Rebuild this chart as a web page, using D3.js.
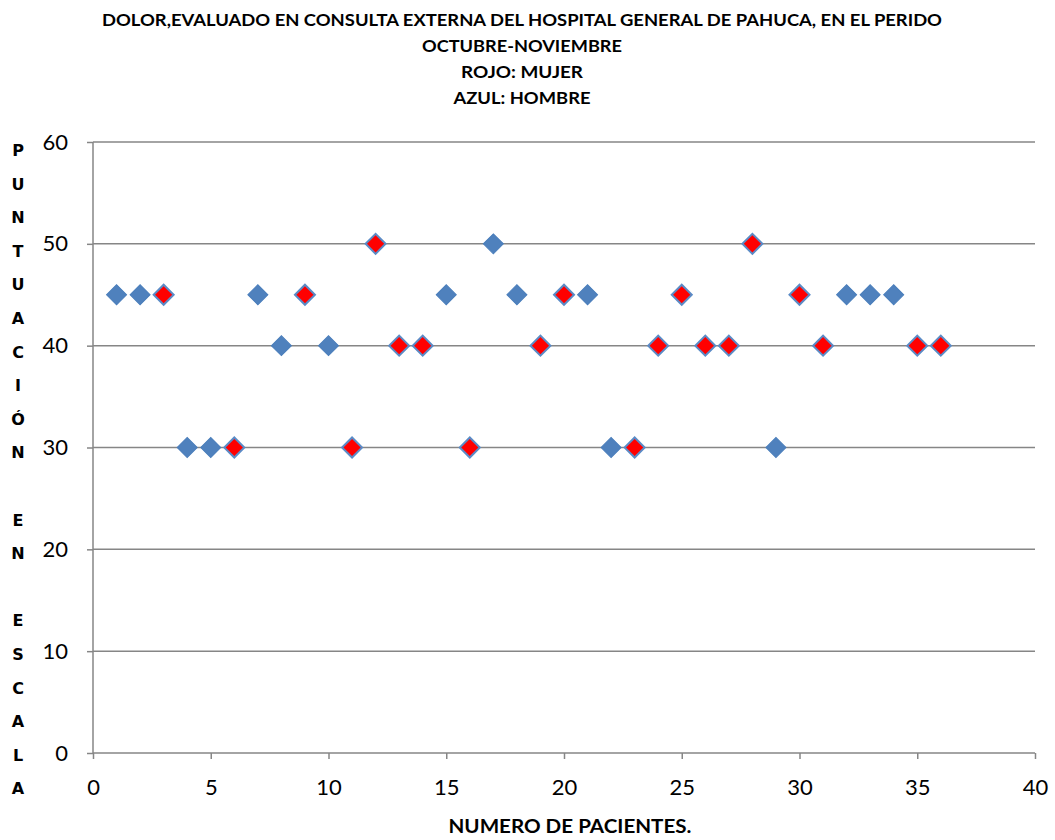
<!DOCTYPE html>
<html>
<head>
<meta charset="utf-8">
<script src="https://cdn.jsdelivr.net/npm/d3@7"></script>
<style>
	body { margin: 0; background: #fff; }
	svg { display: block; }
</style>
</head>
<body>
<svg id="chart"></svg>
<script>
// patient number, score and sex (M = mujer / red, H = hombre / blue)
const pacientes = [1, 2, 3, 4, 5, 6, 7, 8, 9, 10, 11, 12, 13, 14, 15, 16, 17, 18,
	19, 20, 21, 22, 23, 24, 25, 26, 27, 28, 29, 30, 31, 32, 33, 34, 35, 36];
const puntuacion = [45, 45, 45, 30, 30, 30, 45, 40, 45, 40, 30, 50, 40, 40, 45, 30, 50, 45,
	40, 45, 45, 30, 30, 40, 45, 40, 40, 50, 30, 45, 40, 45, 45, 45, 40, 40];
const sexo = ["H", "H", "M", "H", "H", "M", "H", "H", "M", "H", "M", "M", "M", "M", "H", "M", "H", "H",
	"M", "M", "H", "H", "M", "M", "M", "M", "M", "M", "H", "M", "M", "H", "H", "H", "M", "M"];
const xTicks = [0, 5, 10, 15, 20, 25, 30, 35, 40];
const yTicks = [0, 10, 20, 30, 40, 50, 60];
const titleLines = [
	"DOLOR,EVALUADO EN CONSULTA EXTERNA DEL HOSPITAL GENERAL DE PAHUCA, EN EL PERIDO",
	"OCTUBRE-NOVIEMBRE",
	"ROJO: MUJER",
	"AZUL: HOMBRE"
];
const yTitle = "PUNTUACIÓN EN ESCALA";
const xTitle = "NUMERO DE PACIENTES.";

const width = 1055;
const height = 840;
const margin = { top: 142, right: 20, bottom: 87, left: 93 };
const axisColor = "#868686";
const font = "Lato, 'Open Sans', sans-serif";
// measured widths of the title lines in the original (Calibri is narrower than Lato)
const titleWidths = [840, 200, 122, 137];

const svg = d3.select("#chart").attr("width", width).attr("height", height);

const x = d3.scaleLinear().domain([0, 40]).range([margin.left, 1035]);
const y = d3.scaleLinear().domain([0, 60]).range([height - margin.bottom, margin.top]);

// title
svg.append("g")
	.selectAll("text")
	.data(titleLines)
	.join("text")
	.attr("x", 522)
	.attr("y", (d, i) => 25.5 + i * 26.2)
	.attr("text-anchor", "middle")
	.style("font-family", font)
	.style("font-weight", "bold")
	.style("font-size", "17.5px")
	.attr("textLength", (d, i) => titleWidths[i])
	.attr("lengthAdjust", "spacingAndGlyphs")
	.text((d) => d);

// gridlines
svg.append("g")
	.selectAll("line")
	.data(yTicks.filter((d) => d > 0))
	.join("line")
	.attr("x1", x(0))
	.attr("x2", x(40))
	.attr("y1", (d) => y(d))
	.attr("y2", (d) => y(d))
	.attr("stroke", axisColor)
	.attr("stroke-width", 1.5);

// y axis
const yAxis = svg.append("g")
	.attr("transform", `translate(${x(0)},0)`)
	.call(d3.axisLeft(y).tickValues(yTicks).tickSize(6).tickPadding(19));
// x axis
const xAxis = svg.append("g")
	.attr("transform", `translate(0,${y(0)})`)
	.call(d3.axisBottom(x).tickValues(xTicks).tickSize(6).tickPadding(20));

[yAxis, xAxis].forEach((ax) => {
	ax.select(".domain").attr("stroke", axisColor).attr("stroke-width", 1.5);
	ax.selectAll(".tick line").attr("stroke", axisColor).attr("stroke-width", 1.5);
	ax.selectAll(".tick text")
		.style("font-family", font)
		.style("font-size", "22px")
		.attr("fill", "#000");
});
// remove outer tick ends from the domain path
yAxis.select(".domain").attr("d", `M0,${y(0)}V${y(60)}`);
xAxis.select(".domain").attr("d", `M${x(0)},0H${x(40)}`);

// vertical stacked y title
svg.append("g")
	.selectAll("text")
	.data(yTitle.split(""))
	.join("text")
	.attr("x", 18)
	.attr("y", (d, i) => 156 + i * 33.6)
	.attr("text-anchor", "middle")
	.style("font-family", "'DejaVu Sans', sans-serif")
	.style("font-weight", "bold")
	.style("font-size", "16px")
	.text((d) => d);

// x title
svg.append("text")
	.attr("x", 570)
	.attr("y", 833)
	.attr("text-anchor", "middle")
	.style("font-family", font)
	.style("font-weight", "bold")
	.style("font-size", "18.5px")
	.attr("textLength", 243)
	.attr("lengthAdjust", "spacingAndGlyphs")
	.text(xTitle);

// markers
const diamond = d3.symbol().type(d3.symbolSquare).size(200);
svg.append("g")
	.selectAll("path")
	.data(pacientes.map((p, i) => ({ p, v: puntuacion[i], s: sexo[i] })))
	.join("path")
	.attr("d", diamond)
	.attr("transform", (d) => `translate(${x(d.p)},${y(d.v)}) rotate(45)`)
	.attr("fill", (d) => (d.s === "M" ? "#ff0000" : "#4f81bd"))
	.attr("stroke", (d) => (d.s === "M" ? "#5b8bc6" : "#4a7ebb"))
	.attr("stroke-width", (d) => (d.s === "M" ? 2 : 1));
</script>
</body>
</html>
